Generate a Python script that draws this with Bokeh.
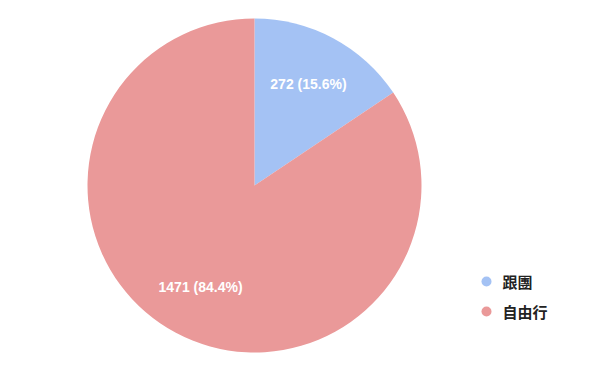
import math
from bokeh.plotting import figure
from bokeh.models import Range1d, ColumnDataSource
from bokeh.core.properties import value
from bokeh.embed import file_html
from bokeh.resources import INLINE

categories = ["跟團", "自由行"]
counts = [272, 1471]
colors = ["#a4c2f4", "#ea9999"]

W, H = 600, 371
cx, cy, R = 254, H - 185, 167
label_r = 0.686 * R

total = sum(counts)
starts, ends, lx, ly, labels = [], [], [], [], []
acc = 0.0
for c in counts:
    a0 = math.pi / 2 - 2 * math.pi * acc / total
    acc += c
    a1 = math.pi / 2 - 2 * math.pi * acc / total
    starts.append(a0)
    ends.append(a1)
    mid = (a0 + a1) / 2
    lx.append(cx + label_r * math.cos(mid))
    ly.append(cy + label_r * math.sin(mid))
    labels.append(f"{c} ({100 * c / total:.1f}%)")

src = ColumnDataSource(dict(start=starts, end=ends, color=colors,
                            lx=lx, ly=ly, label=labels))

p = figure(width=W, height=H, x_range=Range1d(0, W), y_range=Range1d(0, H),
           output_backend="svg", toolbar_location=None, min_border=0)
p.axis.visible = False
p.grid.visible = False
p.outline_line_color = None
p.background_fill_color = "white"
p.border_fill_color = "white"

p.wedge(x=cx, y=cy, radius=R, start_angle="start", end_angle="end",
        direction="clock", fill_color="color", line_color=None,
        source=src)
p.text(x="lx", y="ly", text="label", source=src, text_color="white",
       text_font=value("Liberation Sans"), text_font_style="bold",
       text_font_size="14px", text_align="center", text_baseline="middle")

leg_y = [H - 281, H - 311]
leg_src = ColumnDataSource(dict(x=[486, 486], y=leg_y, color=colors,
                                tx=[502, 502], name=categories))
p.scatter(x="x", y="y", size=10, marker="circle", fill_color="color",
          line_color=None, source=leg_src)
p.text(x="tx", y="y", text="name", source=leg_src, text_color="#222222",
       text_font=value("Noto Sans CJK TC"), text_font_style="bold",
       text_font_size="15px", text_align="left", text_baseline="middle")

open("out.html", "w").write(file_html(p, INLINE))
